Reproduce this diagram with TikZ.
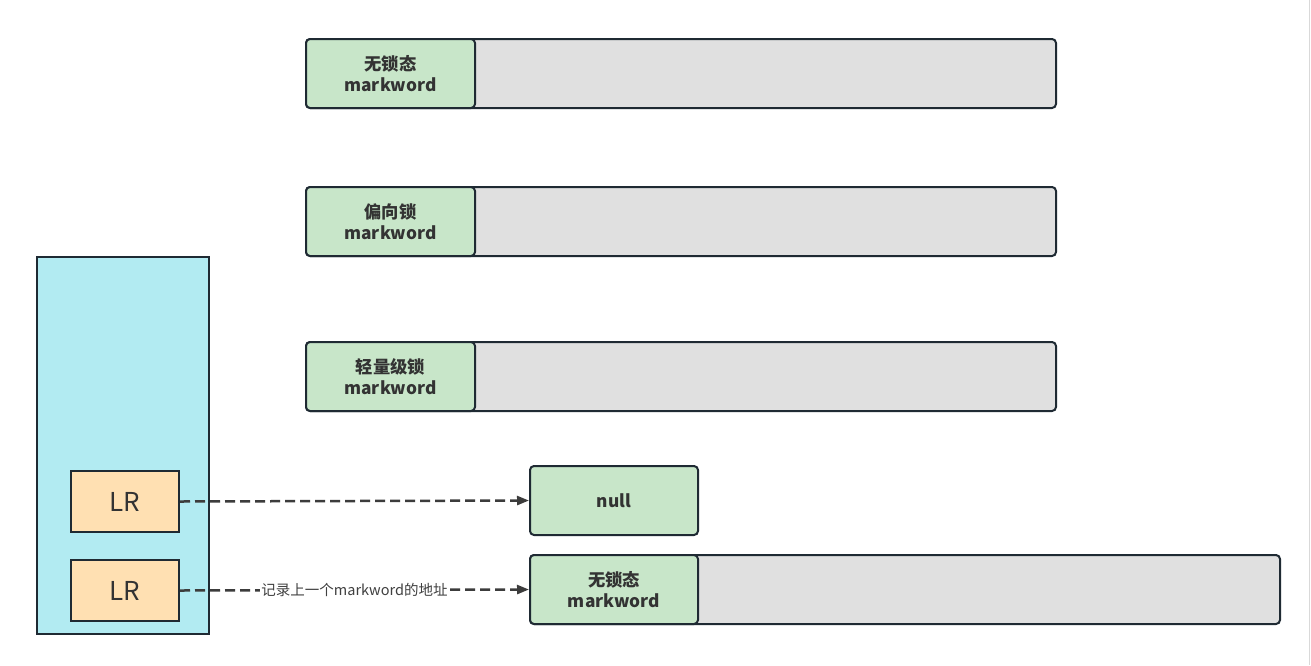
\documentclass[tikz,border=0pt]{standalone}
\usepackage{fontspec}
\setmainfont{Noto Sans CJK SC}
\usetikzlibrary{arrows.meta}
\definecolor{bordc}{HTML}{1F2A33}
\definecolor{greenc}{HTML}{C8E6C9}
\definecolor{grayc}{HTML}{E0E0E0}
\definecolor{cyanc}{HTML}{B2EBF2}
\definecolor{orangec}{HTML}{FFE0B2}
\definecolor{arrc}{HTML}{3C3C3C}
\begin{document}
\begin{tikzpicture}[x=1pt,y=-1pt,
  bar/.style={draw=bordc,line width=2pt,fill=grayc,rounded corners=4pt},
  tag/.style={draw=bordc,line width=2pt,fill=greenc,rounded corners=4pt,inner sep=0pt,align=center,font=\fontsize{17.3}{21}\selectfont\bfseries,text=black!80},
  lrbox/.style={draw=bordc,line width=2pt,fill=orangec,inner sep=0pt,font=\fontsize{26}{28}\selectfont,text=black!80},
  link/.style={draw=arrc,line width=2.5pt,dash pattern=on 10pt off 5pt,-{Triangle[length=12pt,width=9pt]}}]
\useasboundingbox (0,0) rectangle (1311,665);
\fill[white] (0,0) rectangle (1311,665);
\draw[black!15,line width=1pt] (1309.5,0) -- (1309.5,665);
% row 1
\node[bar,minimum width=750pt,minimum height=69pt,inner sep=0pt] (bar1) at (681,73.5) {};
\node[tag,minimum width=169pt,minimum height=69pt] (t1) at (390.5,73.5) {无锁态\\markword};
% row 2
\node[bar,minimum width=750pt,minimum height=69pt,inner sep=0pt] (bar2) at (681,221.5) {};
\node[tag,minimum width=169pt,minimum height=69pt] (t2) at (390.5,221.5) {偏向锁\\markword};
% row 3
\node[bar,minimum width=750pt,minimum height=69pt,inner sep=0pt] (bar3) at (681,376.5) {};
\node[tag,minimum width=169pt,minimum height=69pt] (t3) at (390.5,376.5) {轻量级锁\\markword};
% stack
\node[draw=bordc,line width=2pt,fill=cyanc,minimum width=172pt,minimum height=377pt,inner sep=0pt] (stack) at (123,445.5) {};
\node[lrbox,minimum width=108pt,minimum height=61pt] (lr1) at (125,501.5) {LR};
\node[lrbox,minimum width=108pt,minimum height=61pt] (lr2) at (125,590.5) {LR};
% null
\node[tag,minimum width=168pt,minimum height=69pt] (null) at (614,500.5) {null};
% bottom
\node[bar,minimum width=750pt,minimum height=69pt,inner sep=0pt] (bar4) at (905,589.5) {};
\node[tag,minimum width=168pt,minimum height=69pt] (t4) at (614,589.5) {无锁态\\markword};
% arrows
\draw[link] (lr1.east) -- (null.west);
\draw[link] (lr2.east) -- node[pos=0.5,fill=white,inner sep=1pt,font=\fontsize{14.5}{16}\selectfont,text=black!75] {记录上一个markword的地址} (t4.west);
\end{tikzpicture}
\end{document}
